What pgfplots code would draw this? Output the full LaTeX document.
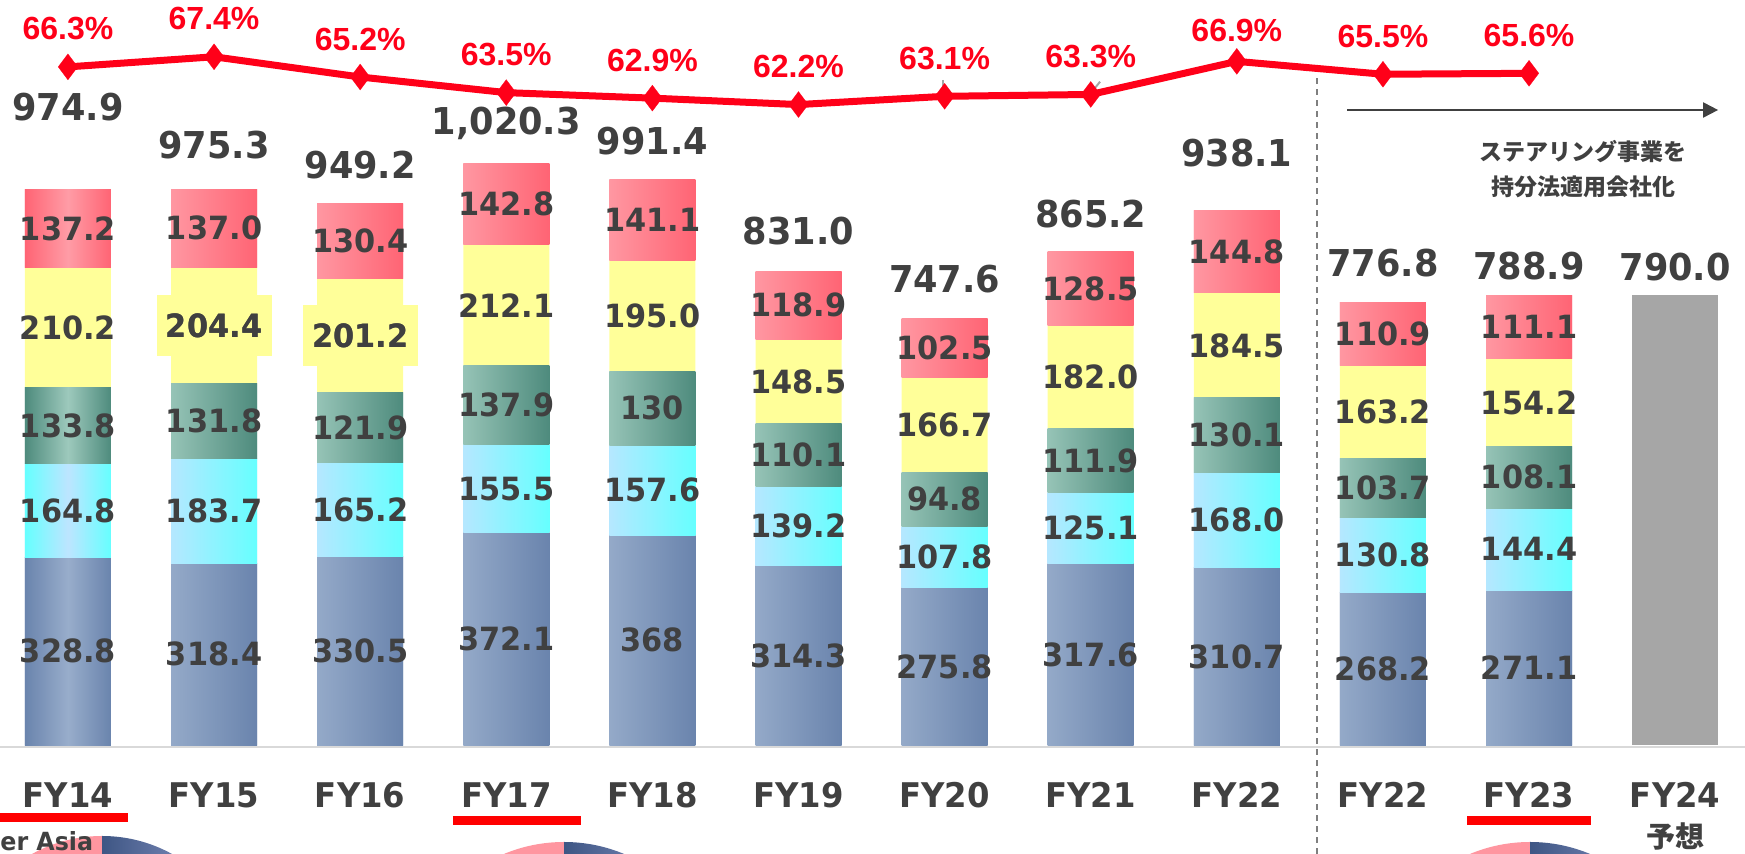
\documentclass[border=0pt]{standalone}
\usepackage{pgfplots}
\pgfplotsset{compat=1.18}
\usepackage{pgfplotstable}
\usetikzlibrary{arrows.meta}
\usepackage{fontspec}
\setmainfont{DejaVu Sans}[FakeStretch=0.95]
\newfontfamily\pctfont{Liberation Sans}
\newfontfamily\jpfont{Noto Sans CJK JP}

\definecolor{txt}{HTML}{404040}
\definecolor{redl}{HTML}{FF0019}
\definecolor{redU}{HTML}{FF0000}
\definecolor{pkE}{HTML}{FF6474}
\definecolor{pkC}{HTML}{FF9CA6}
\definecolor{yl}{HTML}{FFFF99}
\definecolor{tlE}{HTML}{4E8B7D}
\definecolor{tlC}{HTML}{9DC9BC}
\definecolor{cyE}{HTML}{66FFFF}
\definecolor{cyC}{HTML}{BDE5FF}
\definecolor{blE}{HTML}{6A84AD}
\definecolor{blC}{HTML}{98ADCB}
\definecolor{grayb}{HTML}{A6A6A6}
\definecolor{dashgray}{HTML}{7F7F7F}
\definecolor{baseg}{HTML}{D9D9D9}
\definecolor{piePk}{HTML}{FF96A0}
\definecolor{pieBL}{HTML}{3E5684}
\definecolor{pieBR}{HTML}{9DA6D6}

\pgfplotstableread{
x  a     b     c     d     e
0  328.8 164.8 133.8 210.2 137.2
1  318.4 183.7 131.8 204.4 137.0
2  330.5 165.2 121.9 201.2 130.4
3  372.1 155.5 137.9 212.1 142.8
4  368   157.6 130   195.0 141.1
5  314.3 139.2 110.1 148.5 118.9
6  275.8 107.8 94.8  166.7 102.5
7  317.6 125.1 111.9 182.0 128.5
8  310.7 168.0 130.1 184.5 144.8
9  268.2 130.8 103.7 163.2 110.9
10 271.1 144.4 108.1 154.2 111.1
}\bars

\pgfplotstableread{
x  ty   lt
0  1120 974.9
1  1053 975.3
2  1018 949.2
3  1090 1,020.3
4  1059 991.4
5  901  831.0
6  817  747.6
7  932  865.2
8  1039 938.1
9  846  776.8
10 840  788.9
11 838  790.0
}\totals

\pgfplotstableread{
x  p    po
0  66.3 19
1  67.4 19
2  65.2 19
3  63.5 19
4  62.9 19
5  62.2 19
6  63.1 19
7  63.3 19
8  66.9 15.5
9  65.5 19
10 65.6 19
}\ratio

\pgfplotsset{
  base/.style={at={(0pt,0pt)}, anchor=south west, scale only axis,
    width=872.5pt, height=427pt, xmin=-0.465, xmax=11.478,
    axis line style={draw=none}, major tick length=0pt, ytick=\empty, clip=false},
  lab/.style={only marks, mark=text, text mark={},
    nodes near coords, point meta=explicit symbolic,
    every node near coord/.append style={anchor=center, text=txt,
      font=\bfseries\fontsize{16}{16}\selectfont}},
  seg/.style n args={2}{only marks, mark=text, text mark={}, scatter,
    scatter/@pre marker code/.code={\shade[draw=none, left color=#1, right color=#1, middle color=#2] (-21.5pt,0pt) rectangle (21.5pt,\h pt);},
    scatter/@post marker code/.code={}}
}

\begin{document}
\begin{tikzpicture}
% partial pies at the bottom edge
\fill[piePk] (51pt,-63.5pt) -- ++(90:72.5pt) arc[start angle=90,end angle=180,radius=72.5pt] -- cycle;
\shade[left color=pieBL, right color=pieBR] (51pt,-63.5pt) -- ++(0:72.5pt) arc[start angle=0,end angle=90,radius=72.5pt] -- cycle;
\fill[piePk] (282pt,-72pt) -- ++(90:78pt) arc[start angle=90,end angle=180,radius=78pt] -- cycle;
\shade[left color=pieBL, right color=pieBR] (282pt,-72pt) -- ++(0:78pt) arc[start angle=0,end angle=90,radius=78pt] -- cycle;
\fill[piePk] (765pt,-72pt) -- ++(90:78pt) arc[start angle=90,end angle=180,radius=78pt] -- cycle;
\shade[left color=pieBL, right color=pieBR] (765pt,-72pt) -- ++(0:78pt) arc[start angle=0,end angle=90,radius=78pt] -- cycle;
\node[anchor=base west, inner sep=0pt, text=txt, font=\bfseries\fontsize{12.5}{12.5}\selectfont] at (0pt,1.5pt) {er Asia};

% stacked bars
\begin{axis}[base, ymin=-191.2, ymax=1307, ybar stacked, bar width=43pt,
  xtick={0,...,11},
  xticklabels={FY14,FY15,FY16,FY17,FY18,FY19,FY20,FY21,FY22,FY22,FY23,FY24},
  xticklabel style={font=\bfseries\fontsize{17}{17}\selectfont, text=txt, anchor=base, yshift=23.3pt}]
\addplot[draw=none, fill=blC] table[x=x,y=a]{\bars};
\addplot[draw=none, fill=cyC] table[x=x,y=b]{\bars};
\addplot[draw=none, fill=tlC] table[x=x,y=c]{\bars};
\addplot[draw=none, fill=yl] table[x=x,y=d]{\bars};
\addplot[draw=none, fill=pkC] table[x=x,y=e]{\bars};
\draw[baseg, line width=1.2pt] (axis cs:-0.6,-3.5) -- (axis cs:11.6,-3.5);
\draw[dashgray, line width=1pt, dash pattern=on 3pt off 2.5pt] (axis cs:8.55,1170) -- (axis cs:8.55,-195);
\draw[txt, line width=1pt, -{Triangle[length=7.5pt,width=7.5pt]}] (axis cs:8.754,1114) -- (axis cs:11.294,1114);
\node[align=center, text=txt, font=\jpfont\bfseries\fontsize{11.5}{17.5}\selectfont] at (axis cs:10.37,1010) {ステアリング事業を\\持分法適用会社化};
\node[text=txt, font=\jpfont\bfseries\fontsize{14.5}{14.5}\selectfont] at (axis cs:11,-161) {予想};
\draw[redU, line width=4.5pt] (axis cs:-0.6,-128) -- (axis cs:0.41,-128);
\draw[redU, line width=4.5pt] (axis cs:2.635,-133) -- (axis cs:3.511,-133);
\draw[redU, line width=4.5pt] (axis cs:9.576,-132) -- (axis cs:10.424,-132);
\end{axis}

% gradients, labels and forecast bar
\begin{axis}[base, ymin=-191.2, ymax=1307, xtick=\empty]
\addplot[seg={blE}{blC}, visualization depends on={\thisrow{a}*0.285009 \as \h}]
  table[x=x, y expr=0]{\bars};
\addplot[seg={cyE}{cyC}, visualization depends on={\thisrow{b}*0.285009 \as \h}]
  table[x=x, y expr=\thisrow{a}]{\bars};
\addplot[seg={tlE}{tlC}, visualization depends on={\thisrow{c}*0.285009 \as \h}]
  table[x=x, y expr=\thisrow{a}+\thisrow{b}]{\bars};
\addplot[seg={pkE}{pkC}, visualization depends on={\thisrow{e}*0.285009 \as \h}]
  table[x=x, y expr=\thisrow{a}+\thisrow{b}+\thisrow{c}+\thisrow{d}]{\bars};
\addplot[ybar, bar width=43pt, fill=grayb, draw=none] coordinates {(11,790.0)};
\addplot[lab] table[x=x, y expr=0.5*\thisrow{a}, meta=a]{\bars};
\addplot[lab] table[x=x, y expr=\thisrow{a}+0.5*\thisrow{b}, meta=b]{\bars};
\addplot[lab] table[x=x, y expr=\thisrow{a}+\thisrow{b}+0.5*\thisrow{c}, meta=c]{\bars};
\addplot[lab, restrict x to domain=1:2,
  every node near coord/.append style={fill=yl, minimum width=57.5pt, minimum height=30.5pt}]
  table[x=x, y expr=\thisrow{a}+\thisrow{b}+\thisrow{c}+0.5*\thisrow{d}, meta=d]{\bars};
\addplot[lab] table[x=x, y expr=\thisrow{a}+\thisrow{b}+\thisrow{c}+0.5*\thisrow{d}, meta=d]{\bars};
\addplot[lab] table[x=x, y expr=\thisrow{a}+\thisrow{b}+\thisrow{c}+\thisrow{d}+0.5*\thisrow{e}, meta=e]{\bars};
\addplot[lab, every node near coord/.append style={font=\bfseries\fontsize{18.5}{18.5}\selectfont}]
  table[x=x, y=ty, meta=lt]{\totals};
\end{axis}

% ratio line
\begin{axis}[base, ymin=-19.34, ymax=73.58, xtick=\empty]
\draw[grayb, line width=1pt] (axis cs:5.989,64.88) -- (axis cs:5.989,63.24);
\draw[grayb, line width=1pt] (axis cs:7.064,64.69) -- (axis cs:7.0,63.43);
\addplot[redl, line width=3.5pt, mark=diamond*, mark size=6.5pt,
  mark options={line width=0.1pt, fill=redl, draw=redl},
  nodes near coords={\pgfplotspointmeta\%}, point meta=explicit symbolic,
  visualization depends on={\thisrow{po} \as \po},
  every node near coord/.append style={anchor=center, yshift=\po pt, text=redl,
    font=\pctfont\bfseries\fontsize{16}{16}\selectfont}]
  table[x=x, y=p, meta=p]{\ratio};
\end{axis}

\pgfresetboundingbox
\path[use as bounding box] (0pt,0pt) rectangle (872.5pt,427pt);
\end{tikzpicture}
\end{document}
